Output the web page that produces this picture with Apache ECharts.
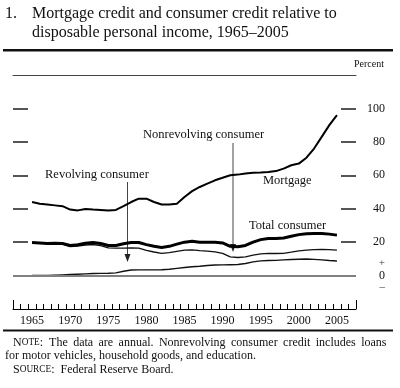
<!DOCTYPE html>
<html><head><meta charset="utf-8">
<script src="https://cdn.jsdelivr.net/npm/echarts@6/dist/echarts.min.js"></script>
<style>html,body{margin:0;padding:0;background:#fff}#c{width:400px;height:388px}</style>
</head><body><div id="c"></div>
<script>
const axisYears = ['1963','1964','1965','1966','1967','1968','1969','1970','1971','1972','1973','1974','1975','1976','1977','1978','1979','1980','1981','1982','1983','1984','1985','1986','1987','1988','1989','1990','1991','1992','1993','1994','1995','1996','1997','1998','1999','2000','2001','2002','2003','2004','2005','2006','2007'];
const years = ['1965','1966','1967','1968','1969','1970','1971','1972','1973','1974','1975','1976','1977','1978','1979','1980','1981','1982','1983','1984','1985','1986','1987','1988','1989','1990','1991','1992','1993','1994','1995','1996','1997','1998','1999','2000','2001','2002','2003','2004','2005'];
const mortgage = [44,43,42.5,42,41.5,39.5,39,39.8,39.5,39.3,39,39.3,41.5,44,46,46,44,42.5,42.5,43,47,50.5,53,55,57,58.5,60,60.4,61,61.5,61.6,62,62.5,64,66,67,70.5,76,83,90,96];
const totalConsumer = [19.8,19.5,19.2,19.3,19.2,18,18.5,19.3,19.8,19.2,18,18,19,19.8,19.8,18.5,17.5,16.8,17.5,18.8,20,20.5,20,20,20,19.5,17.5,17.2,18,20,21.5,22.2,22.2,22.5,23.5,24.5,25,25.2,25.2,24.8,24.2];
const nonrevolving = [19.8,19.5,19.2,19.1,18.8,17.4,17.7,18.3,18.6,17.9,16.6,16.4,16.4,16.6,16.4,15.1,14.1,13.3,13.7,14.5,15.2,15.4,14.9,14.6,14.2,13.3,11.2,10.8,11.2,12.2,13,13.3,13.2,13.3,14,14.8,15.2,15.5,15.6,15.5,15.2];
const revolving = [0,0,0,0.2,0.4,0.6,0.8,1,1.2,1.3,1.4,1.6,2.6,3.3,3.4,3.4,3.4,3.5,3.8,4.3,4.8,5.3,5.6,6,6.3,6.4,6.5,6.6,7.2,8.2,8.8,9,9.1,9.4,9.6,9.8,9.9,9.7,9.4,9,8.7];
const xLabelYears = ['1965','1970','1975','1980','1985','1990','1995','2000','2005'];
const yTickValues = [20,40,60,80,100];
const yLabelValues = [0,20,40,60,80,100];

const SERIF = '"Liberation Serif","Times New Roman",serif';
const pairs = arr => years.map((y,i)=>[y,arr[i]]);

const chart = echarts.init(document.getElementById('c'), null, {renderer:'canvas'});
const T = (text,x,y,size,extra) => Object.assign({type:'text', style:{text, x, y, font: size+'px '+SERIF, fill:'#111', verticalAlign:'middle', align:'left'}}, extra||{});
const SC = (first,rest,tail,x,y) => ({type:'text', style:{text:'{a|'+first+'}{b|'+rest+'}{a|'+tail+'}', x, y, verticalAlign:'middle', fill:'#111', font:'12px '+SERIF,
      rich:{a:{fontFamily:SERIF, fontSize:12, fill:'#111'}, b:{fontFamily:SERIF, fontSize:9.3, fill:'#111'}}}});
const justify = s => s.split(' ').join(' \u2009');

chart.setOption({
  animation:false,
  backgroundColor:'#fff',
  grid:{left:13, right:44, top:75, bottom:79, containLabel:false},
  xAxis:[
    {type:'category', data:axisYears, boundaryGap:true, position:'bottom',
     axisLine:{show:true, onZero:false, lineStyle:{color:'#000', width:1}},
     axisTick:{show:true, inside:true, length:5, interval:0, lineStyle:{color:'#000', width:1}},
     axisLabel:{interval:(i,v)=>xLabelYears.includes(v), margin:6, fontFamily:SERIF, fontSize:12, color:'#111'},
     splitLine:{show:false}},
    {type:'value', position:'top', min:0, max:1,
     axisLine:{show:true, onZero:false, lineStyle:{color:'#444', width:1}},
     axisTick:{show:false}, axisLabel:{show:false}, splitLine:{show:false}},
    {type:'value', position:'bottom', min:0, max:1,
     axisLine:{show:false, onZero:false},
     axisTick:{show:true, inside:true, length:9, customValues:[0,1], lineStyle:{color:'#000', width:1}},
     axisLabel:{show:false}, splitLine:{show:false}}
  ],
  yAxis:[
    {type:'value', position:'left', min:-20, max:120, interval:20,
     axisLine:{show:false, onZero:false},
     axisTick:{show:true, inside:true, length:15, customValues:yTickValues, lineStyle:{color:'#555', width:2}},
     axisLabel:{show:false}, splitLine:{show:false}},
    {type:'value', position:'right', min:-20, max:120, interval:20,
     axisLine:{show:false, onZero:false},
     axisTick:{show:true, inside:true, length:15, customValues:yTickValues, lineStyle:{color:'#555', width:2}},
     axisLabel:{show:true, customValues:yLabelValues, align:'right', margin:29, fontFamily:SERIF, fontSize:12, color:'#111',
       formatter:v=> v===0 ? '{s|+}\n{n|0}\n{s|–}' : String(v),
       rich:{s:{fontFamily:SERIF, fontSize:11, lineHeight:12, color:'#333'}, n:{fontFamily:SERIF, fontSize:12, lineHeight:12, color:'#111'}}},
     splitLine:{show:false}}
  ],
  series:[
    {type:'line', name:'Revolving consumer', data:pairs(revolving), showSymbol:false, symbol:'none',
     lineStyle:{color:'#111', width:1.4},
     markLine:{silent:true, symbol:'none', label:{show:false}, lineStyle:{color:'#808080', type:'solid', width:2}, data:[{yAxis:0}]}},
    {type:'line', name:'Nonrevolving consumer', data:pairs(nonrevolving), showSymbol:false, symbol:'none',
     lineStyle:{color:'#111', width:1.4}},
    {type:'line', name:'Total consumer', data:pairs(totalConsumer), showSymbol:false, symbol:'none',
     lineStyle:{color:'#000', width:3}},
    {type:'line', name:'Mortgage', data:pairs(mortgage), showSymbol:false, symbol:'none',
     lineStyle:{color:'#000', width:2}}
  ],
  graphic:[
    T('1.',5,14,16),
    T('Mortgage credit and consumer credit relative to',32,14,16),
    T('disposable personal income, 1965–2005',32,33,16),
    {type:'rect', shape:{x:3,y:49,width:390,height:2.5}, style:{fill:'#111'}},
    T('Percent',354,64,10),
    T('Nonrevolving consumer',143,135,12.5),
    T('Revolving consumer',45,175,12.5),
    T('Mortgage',263,181,12.5),
    T('Total consumer',249,226,12.5),
    {type:'line', shape:{x1:233,y1:143,x2:233,y2:246}, style:{stroke:'#444', lineWidth:1}},
    {type:'polygon', shape:{points:[[230,244],[236,244],[233,252]]}, style:{fill:'#222'}},
    {type:'line', shape:{x1:127.5,y1:182,x2:127.5,y2:256}, style:{stroke:'#444', lineWidth:1}},
    {type:'polygon', shape:{points:[[124.5,254],[130.5,254],[127.5,262]]}, style:{fill:'#222'}},
    {type:'rect', shape:{x:3,y:329.5,width:390,height:2}, style:{fill:'#111'}},
    SC('N','OTE',':  '+justify('The data are annual. Nonrevolving consumer credit includes loans'),13,343),
    T('for motor vehicles, household goods, and education.',5,356,12),
    SC('S','OURCE',':  Federal Reserve Board.',13,370)
  ]
});
</script></body></html>
